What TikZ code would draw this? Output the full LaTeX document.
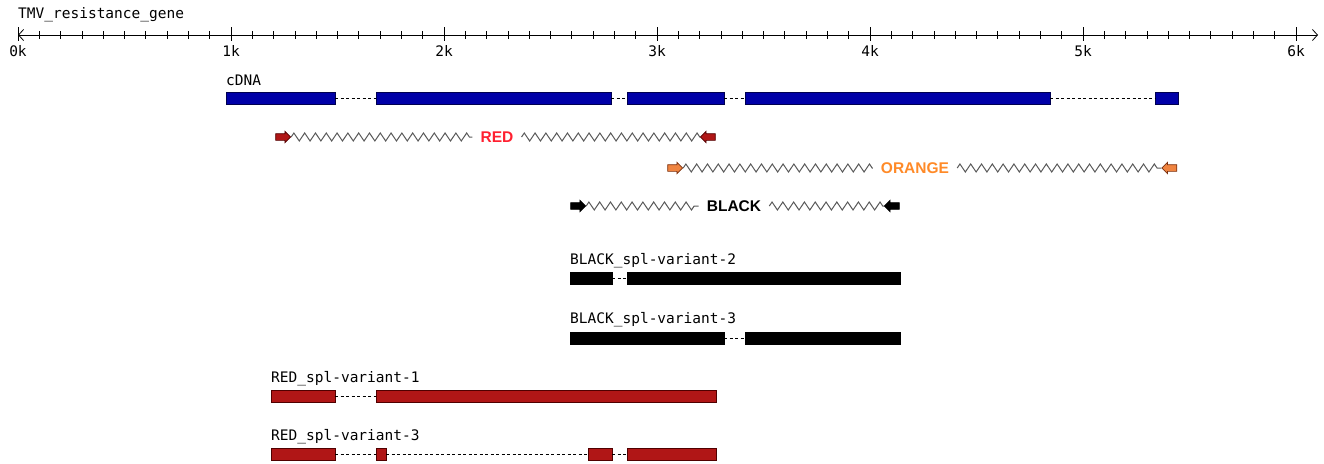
\documentclass[tikz,border=0pt]{standalone}
\usepackage{fontspec}
\setmonofont{DejaVu Sans Mono}
\setsansfont{Liberation Sans}
\usepackage{tikz}
\usetikzlibrary{positioning,shapes.arrows,decorations.pathmorphing,arrows.meta}
\usepackage{xcolor}

\definecolor{cdnablue}{HTML}{0000A8}
\definecolor{cdnaedge}{HTML}{000050}
\definecolor{redbar}{HTML}{B01616}
\definecolor{rededge}{HTML}{500000}
\definecolor{redtext}{HTML}{FF2030}
\definecolor{orangefill}{HTML}{F08440}
\definecolor{orangeedge}{HTML}{7A3010}
\definecolor{orangetext}{HTML}{FF8A28}

% exon box: name, start, end, y, style
\newcommand{\exon}[5]{\node[#5, minimum width={#3pt-#2pt}] (#1) at ({(#2+#3)/2},#4) {};}

\begin{document}
\begin{tikzpicture}[x=1pt, y=-1pt,
    lab/.style={font=\ttfamily\fontsize{14.5}{14.5}\selectfont, inner sep=0pt, anchor=west},
    ticklab/.style={font=\ttfamily\fontsize{14.5}{14.5}\selectfont, inner sep=0pt},
    exonbox/.style={draw, line width=0.8pt, inner sep=0pt, outer sep=0pt, minimum height=12pt},
    cdna/.style={exonbox, fill=cdnablue, draw=cdnaedge},
    redex/.style={exonbox, fill=redbar, draw=rededge},
    blackex/.style={exonbox, fill=black, draw=black},
    intron/.style={line width=1pt, dash pattern=on 3pt off 2.5pt},
    primer/.style={single arrow, draw, line width=0.7pt, inner xsep=0pt, inner ysep=3pt,
                   minimum height=15pt, single arrow head extend=2.4pt, single arrow tip angle=90},
    primerlab/.style={font=\sffamily\bfseries\fontsize{15.5}{15.5}\selectfont, inner xsep=8pt, inner ysep=0pt},
    zz/.style={draw=black!65, line width=1pt, decorate,
               decoration={zigzag, segment length=10.8pt, amplitude=4pt}}]
\useasboundingbox (0,0) rectangle (1324,463);

% ruler
\node[lab] (title) at (18,15) {TMV\_resistance\_gene};
\coordinate (axL) at (18,35);
\coordinate (axR) at (1318,35);
\draw[line width=0.8pt, {Straight Barb[length=5pt,width=11pt]}-{Straight Barb[length=5pt,width=11pt]}] (axL) -- (axR);
\foreach \i in {1,...,60}
  \draw[line width=0.8pt] ({18+\i*21.3},31) -- ({18+\i*21.3},39);
\foreach \i in {0,...,6} {
  \draw[line width=0.8pt] ({18+\i*213},27) -- ({18+\i*213},41);
  \node[ticklab] (k\i) at ({18+\i*213},51) {\i k};
}

% cDNA
\node[lab] (cdnalab) at (226,80) {cDNA};
\exon{c1}{226}{335}{98}{cdna}
\exon{c2}{376}{611}{98}{cdna}
\exon{c3}{627}{724}{98}{cdna}
\exon{c4}{745}{1050}{98}{cdna}
\exon{c5}{1155}{1178}{98}{cdna}
\draw[intron] (c1) -- (c2);
\draw[intron] (c2) -- (c3);
\draw[intron] (c3) -- (c4);
\draw[intron] (c4) -- (c5);

% primer pairs
\node[primer, fill=redbar, draw=rededge] (redL) at (281.5,137) {};
\node[primer, fill=redbar, draw=rededge, shape border rotate=180] (redR) at (709.5,137) {};
\node[primerlab, text=redtext] (redlab) at (497,137) {RED};
\draw[zz] (redL.tip) -- (redlab);
\draw[zz] (redlab) -- (redR.tip);

\node[primer, fill=orangefill, draw=orangeedge] (oraL) at (673.5,168) {};
\node[primer, fill=orangefill, draw=orangeedge, shape border rotate=180] (oraR) at (1171,168) {};
\node[primerlab, text=orangetext] (oralab) at (915,168) {ORANGE};
\draw[zz] (oraL.tip) -- (oralab);
\draw[zz] (oralab) -- (oraR.tip);

\node[primer, fill=black] (blkL) at (576.5,206) {};
\node[primer, fill=black, shape border rotate=180] (blkR) at (893.5,206) {};
\node[primerlab] (blklab) at (734,206) {BLACK};
\draw[zz] (blkL.tip) -- (blklab);
\draw[zz] (blklab) -- (blkR.tip);

% BLACK variants
\node[lab] (bv2lab) at (570,261) {BLACK\_spl-variant-2};
\exon{bv2a}{570}{612}{278}{blackex}
\exon{bv2b}{627}{900}{278}{blackex}
\draw[intron] (bv2a) -- (bv2b);

\node[lab] (bv3lab) at (570,320) {BLACK\_spl-variant-3};
\exon{bv3a}{570}{724}{338}{blackex}
\exon{bv3b}{745}{900}{338}{blackex}
\draw[intron] (bv3a) -- (bv3b);

% RED variants
\node[lab] (rv1lab) at (271,379) {RED\_spl-variant-1};
\exon{rv1a}{271}{335}{396}{redex}
\exon{rv1b}{376}{716}{396}{redex}
\draw[intron] (rv1a) -- (rv1b);

\node[lab] (rv3lab) at (271,437) {RED\_spl-variant-3};
\exon{rv3a}{271}{335}{454}{redex}
\exon{rv3b}{376}{386}{454}{redex}
\exon{rv3c}{588}{612}{454}{redex}
\exon{rv3d}{627}{716}{454}{redex}
\draw[intron] (rv3a) -- (rv3b);
\draw[intron] (rv3b) -- (rv3c);
\draw[intron] (rv3c) -- (rv3d);

\end{tikzpicture}
\end{document}
